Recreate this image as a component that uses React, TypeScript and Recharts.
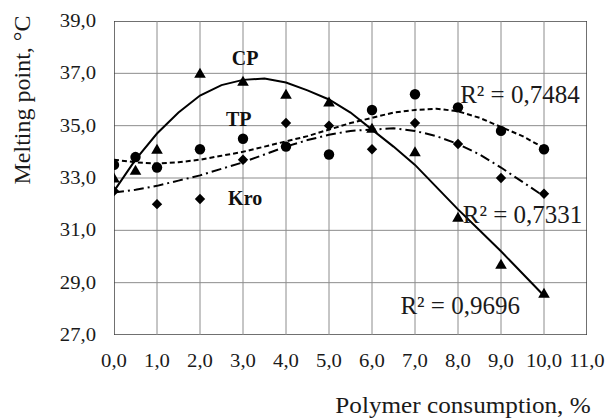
import React from 'react';
import { ScatterChart, Scatter, XAxis, YAxis, ReferenceDot } from 'recharts';

const FONT = '"Liberation Serif", "Times New Roman", serif';

const xTicks = [0, 1, 2, 3, 4, 5, 6, 7, 8, 9, 10, 11];
const yTicks = [27, 29, 31, 33, 35, 37, 39];

// Measured points
const cpX = [0, 0.5, 1, 2, 3, 4, 5, 6, 7, 8, 9, 10];
const cpY = [33.0, 33.3, 34.1, 37.0, 36.7, 36.2, 35.9, 34.9, 34.0, 31.5, 29.7, 28.6];
const tpX = [0, 0.5, 1, 2, 3, 4, 5, 6, 7, 8, 9, 10];
const tpY = [33.5, 33.8, 33.4, 34.1, 34.5, 34.2, 33.9, 35.6, 36.2, 35.7, 34.8, 34.1];
const kroX = [0, 1, 2, 3, 4, 5, 6, 7, 8, 9, 10];
const kroY = [32.5, 32.0, 32.2, 33.7, 35.1, 35.0, 34.1, 35.1, 34.3, 33.0, 32.4];

// Trend lines
const trendX = [0, 0.5, 1, 1.5, 2, 2.5, 3, 3.5, 4, 4.5, 5, 5.5, 6, 6.5, 7, 7.5, 8, 8.5, 9, 9.5, 10];
const cpTrend = [32.5, 33.7, 34.7, 35.5, 36.15, 36.55, 36.75, 36.8, 36.65, 36.35, 36.0, 35.5, 34.85, 34.2, 33.5, 32.65, 31.8, 31.0, 30.2, 29.35, 28.5];
const tpTrend = [33.7, 33.6, 33.55, 33.6, 33.7, 33.85, 34.0, 34.2, 34.4, 34.6, 34.85, 35.1, 35.3, 35.5, 35.6, 35.65, 35.55, 35.3, 34.95, 34.6, 34.15];
const kroTrend = [32.45, 32.55, 32.7, 32.9, 33.1, 33.35, 33.6, 33.9, 34.2, 34.45, 34.65, 34.8, 34.85, 34.9, 34.8, 34.6, 34.3, 33.9, 33.4, 32.85, 32.3];

const zip = (xs: number[], ys: number[]) => xs.map((x, i) => ({ x, y: ys[i] }));

const cpData = zip(cpX, cpY);
const tpData = zip(tpX, tpY);
const kroData = zip(kroX, kroY);
const cpTrendData = zip(trendX, cpTrend);
const tpTrendData = zip(trendX, tpTrend);
const kroTrendData = zip(trendX, kroTrend);

const xMin = xTicks[0];
const xMax = xTicks[xTicks.length - 1];
const yMin = yTicks[0];
const yMax = yTicks[yTicks.length - 1];

const fmt = (v: number) => v.toFixed(1).replace('.', ',');

const Triangle = (p: any) => (
  <polygon points={`${p.cx},${p.cy - 5.5} ${p.cx + 5.8},${p.cy + 4.5} ${p.cx - 5.8},${p.cy + 4.5}`} fill="#000" />
);
const Circle = (p: any) => <circle cx={p.cx} cy={p.cy} r={5.2} fill="#000" />;
const Diamond = (p: any) => (
  <polygon points={`${p.cx},${p.cy - 5.2} ${p.cx + 5.2},${p.cy} ${p.cx},${p.cy + 5.2} ${p.cx - 5.2},${p.cy}`} fill="#000" />
);
const NoShape = () => <g />;

const XTick = (p: any) => (
  <text
    transform={`translate(${p.x},367) scale(1.15,1)`}
    textAnchor="middle"
    fontFamily={FONT}
    fontSize={18}
    fill="#1a1a1a"
  >
    {fmt(p.payload.value)}
  </text>
);
const YTick = (p: any) => (
  <text
    transform={`translate(96,${p.y}) scale(1.15,1)`}
    dy={6}
    textAnchor="end"
    fontFamily={FONT}
    fontSize={18}
    fill="#1a1a1a"
  >
    {fmt(p.payload.value)}
  </text>
);

const annStyle = { fontFamily: FONT, fontSize: 25, fill: '#1a1a1a' };
const boldStyle = { fontFamily: FONT, fontSize: 20, fontWeight: 'bold', fill: '#111' };

export default function App() {
  return (
    <div style={{ position: 'absolute', left: 0, top: 0, width: 608, height: 419, background: '#fff' }}>
      <ScatterChart width={608} height={419} margin={{ top: 21, right: 21, left: 0, bottom: 0 }}>
        <XAxis
          type="number"
          dataKey="x"
          domain={[xMin, xMax]}
          ticks={xTicks}
          height={84}
          tickLine={false}
          axisLine={false}
          tick={XTick}
          allowDataOverflow
        />
        <YAxis
          type="number"
          dataKey="y"
          domain={[yMin, yMax]}
          ticks={yTicks}
          width={114}
          tickLine={false}
          axisLine={false}
          tick={YTick}
          allowDataOverflow
        />
        {yTicks.map((v) => (
          <Scatter
            key={'h' + v}
            data={[{ x: xMin, y: v }, { x: xMax, y: v }]}
            shape={NoShape}
            line={{ stroke: v === yMin || v === yMax ? '#404040' : '#8c8c8c', strokeWidth: v === yMin || v === yMax ? 1.5 : 1 }}
            isAnimationActive={false}
          />
        ))}
        {xTicks.map((v) => (
          <Scatter
            key={'v' + v}
            data={[{ x: v, y: yMin }, { x: v, y: yMax }]}
            shape={NoShape}
            line={{ stroke: v === xMin || v === xMax ? '#404040' : '#8c8c8c', strokeWidth: v === xMin || v === xMax ? 1.5 : 1 }}
            isAnimationActive={false}
          />
        ))}

        <Scatter data={cpData} shape={Triangle} isAnimationActive={false} />
        <Scatter data={tpData} shape={Circle} isAnimationActive={false} />
        <Scatter data={kroData} shape={Diamond} isAnimationActive={false} />

        <Scatter data={cpTrendData} shape={NoShape} line={{ stroke: '#000', strokeWidth: 2 }} isAnimationActive={false} />
        <Scatter data={tpTrendData} shape={NoShape} line={{ stroke: '#000', strokeWidth: 2, strokeDasharray: '5 3' }} isAnimationActive={false} />
        <Scatter data={kroTrendData} shape={NoShape} line={{ stroke: '#000', strokeWidth: 2, strokeDasharray: '10 4 2 4' }} isAnimationActive={false} />

        <ReferenceDot x={3.05} y={37.6} r={0} stroke="none" label={{ value: 'CP', position: 'center', ...boldStyle }} />
        <ReferenceDot x={2.9} y={35.25} r={0} stroke="none" label={{ value: 'TP', position: 'center', ...boldStyle }} />
        <ReferenceDot x={3.05} y={32.24} r={0} stroke="none" label={{ value: 'Kro', position: 'center', ...boldStyle }} />
        <ReferenceDot x={9.44} y={36.2} r={0} stroke="none" label={{ value: 'R² = 0,7484', position: 'center', ...annStyle }} />
        <ReferenceDot x={9.5} y={31.62} r={0} stroke="none" label={{ value: 'R² = 0,7331', position: 'center', ...annStyle }} />
        <ReferenceDot x={8.05} y={28.15} r={0} stroke="none" label={{ value: 'R² = 0,9696', position: 'center', ...annStyle }} />
      </ScatterChart>
      <svg width={608} height={419} style={{ position: 'absolute', left: 0, top: 0, pointerEvents: 'none' }}>
        <text
          x={0}
          y={0}
          transform="translate(30,100) rotate(-90)"
          textAnchor="middle"
          fontFamily={FONT}
          fontSize={24}
          fill="#1a1a1a"
        >
          Melting point, °C
        </text>
        <text
          transform="translate(463,413) scale(1.05,1)"
          textAnchor="middle"
          fontFamily={FONT}
          fontSize={24}
          fill="#1a1a1a"
        >
          Polymer consumption, %
        </text>
      </svg>
    </div>
  );
}
